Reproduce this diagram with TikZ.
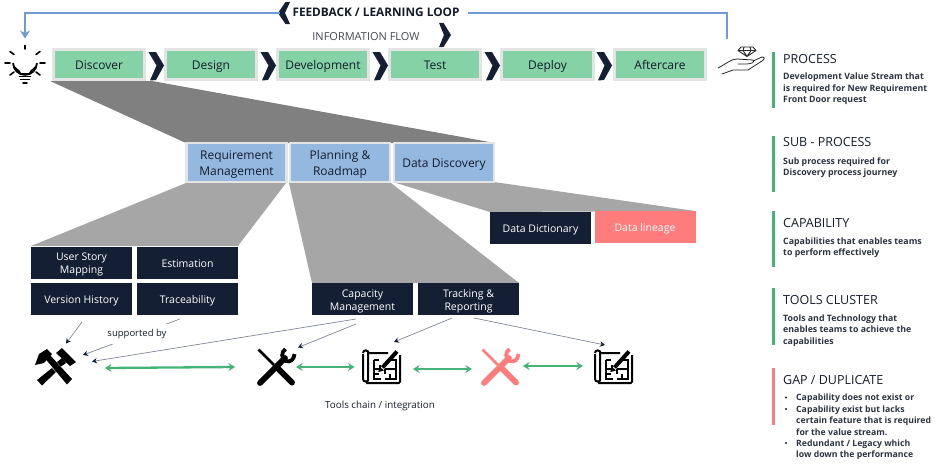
\documentclass[tikz,border=0pt]{standalone}
\usepackage{fontspec}
\setmainfont{Open Sans}
\usetikzlibrary{arrows.meta,calc}
\definecolor{navy}{HTML}{141F33}
\definecolor{inkc}{HTML}{141C2C}
\definecolor{greenbox}{HTML}{84D2A5}
\definecolor{bluebox}{HTML}{95B8E0}
\definecolor{edgec}{HTML}{E4E4E4}
\definecolor{redc}{HTML}{FF7C7C}
\definecolor{greenc}{HTML}{45B375}
\definecolor{loopc}{HTML}{6F9AD3}
\definecolor{thinc}{HTML}{7F8799}
\tikzset{
  settled/.style={execute at begin node={\leavevmode\rule{0pt}{#1}},execute at end node={\rule[-3pt]{0pt}{0pt}}},
  txt/.style={font=\fontsize{12}{14}\selectfont,text=inkc,align=center,inner sep=0pt},
  gbox/.style={txt,settled=13pt,draw=edgec,line width=2.6pt,fill=greenbox,minimum width=91.5pt,minimum height=30.5pt},
  bbox/.style={txt,settled=13pt,draw=edgec,line width=2.6pt,fill=bluebox,minimum width=100pt,minimum height=39pt,font=\fontsize{12}{16}\selectfont},
  bboxtwo/.style={bbox,settled=29pt},
  dbox/.style={inner sep=0pt,align=center,settled=12.4pt,fill=navy,text=white,minimum width=101pt,minimum height=32pt,font=\fontsize{10.5}{13}\selectfont},
  dboxtwo/.style={dbox,settled=25.4pt},
  rbox/.style={dbox,fill=redc},
  ttl/.style={anchor=west,inner sep=0pt,font=\fontsize{12.5}{14}\selectfont,text=inkc},
  body/.style={anchor=north west,inner sep=0pt,align=left,font=\bfseries\fontsize{8.8}{11.4}\selectfont,text=inkc!90},
  legbar/.style={line width=3pt,greenc},
  lab/.style={inner sep=0pt,font=\fontsize{9.5}{12}\selectfont,text=inkc},
  thin/.style={thinc,line width=.7pt,-{Stealth[length=5pt,width=5.5pt,color=navy]}},
  chain/.style={greenc,line width=2.3pt,{Stealth[length=6.5pt,width=8pt]}-{Stealth[length=6.5pt,width=8pt]}},
  loop/.style={loopc,line width=1.6pt},
  chevr/.pic={\fill[navy] (-7.5,-13.5)--(0,-13.5)--(8,0)--(0,14.5)--(-6,15)--(0.5,0)--cycle;},
  chevl/.pic={\fill[navy] (6,-11)--(1.5,-11)--(-6,0)--(1.5,11)--(6,11)--(1,0)--cycle;},
  tools/.pic={
    \draw[pic actions,line width=2.8pt] (1.5,1.5)--(17,17);
    \draw[pic actions,line width=6pt,line cap=round] (21,20.5)--(35,34.5);
    \draw[pic actions,line width=5.8pt,line cap=round] (3,35)--(28,10);
    \draw[pic actions,line width=3.8pt] (28.5,1) .. controls (24,4) and (24,11) .. (29,13) .. controls (33,14.5) and (37,12) .. (37.5,6);
  },
  plan/.pic={
    \draw[line width=2pt,rounded corners=1.2pt] (6,4)--(25,4) (37,6)--(37,34)--(3,34) (0,30)--(0,5);
    \draw[line width=2pt,rounded corners=1.2pt] (0,4) arc[start angle=180,end angle=360,radius=2.6] -- (5.2,30) arc[start angle=0,end angle=180,radius=2.6];
    \draw[line width=1.6pt] (11,11)--(11,30)--(18,30) (22,30)--(33,30)--(33,11)--(27,11)
      (11,11)--(16,11) (11,20)--(17,20)--(17,16) (11,25)--(16,25) (22,20)--(33,20) (22,20)--(22,25) (27,25)--(27,30);
    \draw[line width=4pt] (19.5,18.5)--(34,2.5);
    \fill (15.3,23)--(16.5,17.5)--(21,21.5)--cycle;
  },
}
\begin{document}
\begin{tikzpicture}[x=1pt,y=-1pt]
\useasboundingbox (0,0) rectangle (938,474);

% funnels
\fill[black!50] (50,81)--(152,81)--(495,143)--(186,143)--cycle;
\fill[black!35] (186,183)--(286,183)--(238,246)--(31,246)--cycle;
\fill[black!35] (289,183)--(391,183)--(519,283)--(312,283)--cycle;
\fill[black!35] (393,182)--(494,182)--(695,211)--(490,212)--cycle;

% process
\node[gbox] (discover) at (99,64.5) {Discover};
\node[gbox] (design) at (211,64.5) {Design};
\node[gbox] (development) at (323,64.5) {Development};
\node[gbox] (test) at (435,64.5) {Test};
\node[gbox] (deploy) at (547.5,64.5) {Deploy};
\node[gbox] (aftercare) at (660,64.5) {Aftercare};
\foreach \x in {156,268,380,492,604}{\pic at (\x,65.5) {chevr};}

% sub-process
\node[bboxtwo] (req) at (236.5,162.5) {Requirement\\Management};
\node[bboxtwo] (plan) at (340,162.5) {Planning \&\\Roadmap};
\node[bbox] (datadisc) at (444,162.5) {Data Discovery};

% capabilities
\node[dboxtwo] (story) at (81.5,262.5) {User Story\\Mapping};
\node[dbox] (estim) at (187.5,262.5) {Estimation};
\node[dbox] (version) at (81.5,299) {Version History};
\node[dbox] (trace) at (187.5,299) {Traceability};
\node[dboxtwo] (capacity) at (362.5,299) {Capacity\\Management};
\node[dboxtwo] (tracking) at (468.5,299) {Tracking \&\\Reporting};
\node[dbox] (dict) at (540.5,227.5) {Data Dictionary};
\node[rbox] (lineage) at (645,226.5) {Data lineage};

% top labels and loop
\node[inner sep=0pt,font=\bfseries\fontsize{11.8}{13}\selectfont,text=inkc] (fb) at (376,12) {FEEDBACK / LEARNING LOOP};
\node[lab,font=\fontsize{11}{12}\selectfont,text=inkc!80] (info) at (366,36.5) {INFORMATION FLOW};
\pic at (284,13) {chevl};
\pic[xscale=-1,yscale=1.1] at (445,35) {chevl};

% icons
\coordinate (bulbtop) at (25,38.5);
\coordinate (handtop) at (727,39);
\coordinate (fbleft) at (280,13);
\coordinate (fbright) at (468,13);
\draw[loop,-{Stealth[length=8pt,width=10pt]}] (fbleft) -| (bulbtop);
\draw[loop] (fbright) -| (handtop);

% bulb
\begin{scope}[line width=1.6pt,line cap=round,black]
  \draw (20.5,74) .. controls (20,69.5) and (13,69) .. (13,63) arc[start angle=180,end angle=0,radius=12] .. controls (37,69) and (30,69.5) .. (29.5,74) -- cycle;
  \draw (25,45.5)--(25,49) (5,63)--(10,63) (40,63)--(45,63) (10,51.5)--(14,54.5) (40,51.5)--(36,54.5) (10,75)--(14,72) (40,75)--(36,72);
  \draw (19.5,76.5)--(30.5,76.5) (20.5,79.5)--(29.5,79.5) (23,83)--(27,83);
\end{scope}

% hand with gem
\begin{scope}[line width=.8pt,line join=round,line cap=round,black!85]
  \draw (718,68) .. controls (726,64) and (731,59) .. (737,59) -- (753,60) .. controls (755,62) and (752,64) .. (745,64) -- (738,64);
  \draw (753,61) -- (762,57) .. controls (765,57) and (765,59) .. (762,61) -- (748,70) -- (733,70) -- (722,74);
  \draw[line width=.9pt] (741,47)--(753,47)--(756,50.5)--(747,56.5)--(738,50.5)--cycle (738,50.5)--(756,50.5) (744,47)--(743,50.5)--(747,56.5)--(751,50.5)--(750,47);
\end{scope}

% hammers
\begin{scope}[black]
  \fill (35,365)--(39,354)--(47,349)--(52,354)--(44,363)--cycle;
  \fill (45.5,359)--(50,355)--(72,379)--(67,384.5)--cycle;
  \fill (56,353)--(62,348)--(76,362)--(70,366)--cycle;
  \fill (37,380)--(52,368)--(56,372)--(42,385.5)--cycle;
  \fill (57,362)--(62,358)--(66,363)--(61,366.5)--cycle;
\end{scope}
\node[inner sep=0pt,minimum size=38pt] (hammers) at (55,367) {};
\pic[draw=black] at (257,348) {tools};
\node[inner sep=0pt,minimum size=38pt] (wrench) at (276,367) {};
\pic[black] at (363,349) {plan};
\node[inner sep=0pt,minimum size=38pt] (plan1) at (382.5,366) {};
\pic[draw=redc] at (481,348) {tools};
\node[inner sep=0pt,minimum size=38pt] (wrench2) at (500,367) {};
\pic[black] at (595,349) {plan};
\node[inner sep=0pt,minimum size=38pt] (plan2) at (614,366) {};

% support arrows
\coordinate (s1) at (82,322);  \coordinate (e1) at (66,343.5);
\coordinate (s2) at (180,319); \coordinate (e2) at (83,355);
\coordinate (s3) at (356,319); \coordinate (e3) at (92,361.5);
\coordinate (s4) at (356,324); \coordinate (e4) at (298,347.5);
\coordinate (s5) at (452,318); \coordinate (e5) at (394,342);
\coordinate (s6) at (474,318); \coordinate (e6) at (605,345);
\draw[thin] (s1)--(e1);
\draw[thin] (s2)--(e2);
\draw[thin] (s3)--(e3);
\draw[thin] (s4)--(e4);
\draw[thin] (s5)--(e5);
\draw[thin] (s6)--(e6);
\node[lab,fill=white,minimum width=74pt,minimum height=20pt] (supp) at (137,334) {supported by};

% chain
\coordinate (c1a) at (105,368); \coordinate (c1b) at (235,367);
\coordinate (c2a) at (296,367); \coordinate (c2b) at (354.5,367);
\coordinate (c3a) at (413,369); \coordinate (c3b) at (472,369);
\coordinate (c4a) at (523,366); \coordinate (c4b) at (583,366);
\draw[chain] (c1a)--(c1b);
\draw[chain] (c2a)--(c2b);
\draw[chain] (c3a)--(c3b);
\draw[chain] (c4a)--(c4b);
\node[lab,font=\fontsize{9.8}{12}\selectfont] (toolchain) at (380,406) {Tools chain / integration};

% legend
\draw[legbar] (773,52)--(773,108);
\draw[legbar] (773,136)--(773,192);
\draw[legbar] (773,211)--(773,267);
\draw[legbar] (773,288)--(773,345);
\draw[legbar,redc] (773,368)--(773,425);
\node[ttl] (t1) at (783,59) {PROCESS};
\node[body] (b1) at (783,73) {Development Value Stream that\\is required for New Requirement\\Front Door request};
\node[ttl] (t2) at (783,142) {SUB - PROCESS};
\node[body] (b2) at (783,157.5) {Sub process required for\\Discovery process journey};
\node[ttl] (t3) at (783,223) {CAPABILITY};
\node[body] (b3) at (783,237.5) {Capabilities that enables teams\\to perform effectively};
\node[ttl] (t4) at (783,300) {TOOLS CLUSTER};
\node[body] (b4) at (783,314.5) {Tools and Technology that\\enables teams to achieve the\\capabilities};
\node[ttl] (t5) at (783,380) {GAP / DUPLICATE};
\node[body,font=\bfseries\fontsize{8.7}{11.4}\selectfont] (b5) at (796,394) {Capability does not exist or\\Capability exist but lacks\\certain feature that is required\\for the value stream.\\Redundant / Legacy which\\low down the performance};
\foreach \y in {397.5,409,443}{\fill[inkc] (786,\y) circle (1.1pt);}
\end{tikzpicture}
\end{document}
